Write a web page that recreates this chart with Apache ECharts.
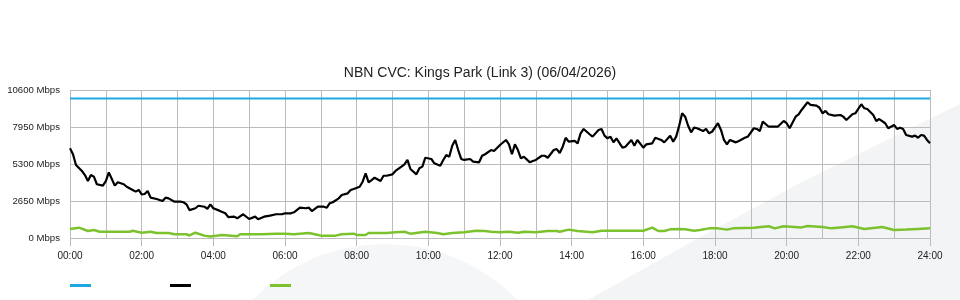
<!DOCTYPE html>
<html>
<head>
<meta charset="utf-8">
<script src="https://cdn.jsdelivr.net/npm/echarts@6/dist/echarts.min.js"></script>
<style>html,body{margin:0;padding:0;background:#fff;}#c{width:960px;height:300px;}</style>
</head>
<body>
<div id="c"></div>
<script>
// ---- data (minutes since 00:00, Mbps) ----
const titleText = 'NBN CVC: Kings Park (Link 3) (06/04/2026)';
const xTickLabels = ['00:00','02:00','04:00','06:00','08:00','10:00','12:00','14:00','16:00','18:00','20:00','22:00','24:00'];
const yTicks = [0, 2650, 5300, 7950, 10600];

const capacityTimes = [0, 1440];
const capacityValues = [10000, 10000];

const trafficTimes = [0,5,10,20,25,30,35,40,45,55,60,65,70,75,80,90,95,105,110,115,120,125,130,135,145,155,160,165,175,185,190,195,200,210,215,225,230,235,240,250,260,265,275,280,290,300,310,315,325,335,345,355,360,370,375,385,395,400,405,415,425,430,435,440,450,455,465,470,475,485,490,495,500,505,510,520,525,530,540,545,555,560,565,570,580,585,590,595,605,610,620,625,630,635,640,645,650,655,660,670,675,685,690,695,705,710,720,730,735,740,745,750,755,760,770,775,780,790,795,800,810,815,820,825,830,835,845,850,855,860,870,875,885,890,895,900,905,910,915,925,930,940,945,950,960,965,975,980,990,995,1005,1010,1015,1020,1025,1030,1035,1040,1045,1050,1060,1065,1070,1075,1085,1090,1095,1100,1105,1115,1120,1130,1135,1145,1150,1155,1160,1170,1175,1185,1195,1200,1205,1215,1220,1225,1235,1240,1250,1255,1260,1265,1270,1280,1290,1295,1300,1310,1315,1325,1330,1335,1345,1350,1355,1365,1370,1380,1385,1390,1395,1400,1410,1415,1420,1425,1430,1435,1440];
const trafficValues = [6420,6000,5230,4800,4510,4080,4510,4390,3850,3750,4080,4700,4230,3750,3990,3850,3670,3440,3320,3440,3130,3150,3370,2890,2790,2650,2890,2840,2600,2600,2560,2410,2000,2130,2310,2240,2080,2410,2130,1960,1770,1500,1530,1410,1700,1360,1530,1340,1530,1600,1700,1700,1770,1770,1840,2170,2130,2170,1930,2240,2240,2170,2490,2560,2840,3080,3200,3440,3510,3670,4030,4630,3990,4150,4320,4080,4460,4460,4560,4800,5110,5280,5590,4940,4560,4990,5110,5750,5660,5350,5180,5590,5940,5820,6610,7020,6300,5660,5590,5660,5470,5420,5890,6000,6300,6230,6660,7020,6710,6000,6710,6300,5710,5820,5420,5520,5590,5890,5890,5750,6300,6370,6090,6540,7180,6900,6950,6780,7500,7810,7430,7260,7740,7810,7330,7140,7260,6850,7140,6470,6540,7020,6610,7020,6470,6710,6780,7180,7020,6850,7330,6900,7260,8040,8930,8690,8040,7570,7900,7860,7660,7810,7500,7610,8220,7740,7020,6710,7020,6850,6950,7180,7260,7860,7810,7660,8330,7970,7970,7970,8380,8220,7860,8690,8860,9170,9720,9530,9480,9330,8930,9100,8860,8760,8810,8690,8450,8860,8930,9580,9290,9240,8810,8380,8520,8220,7860,8090,7810,7900,7810,7380,7260,7330,7180,7380,7330,7020,6780];

const uploadTimes = [0,15,30,40,50,100,105,120,135,145,165,175,195,200,210,225,235,255,280,285,320,345,360,375,400,410,420,445,455,475,480,495,500,530,545,560,570,595,615,625,640,660,680,695,705,720,735,750,760,780,800,815,820,835,850,875,890,960,975,985,995,1005,1020,1030,1045,1055,1070,1085,1100,1110,1145,1170,1180,1195,1225,1235,1260,1275,1290,1310,1330,1360,1380,1400,1420,1440];
const uploadValues = [650,740,500,570,450,450,520,380,450,360,360,270,270,180,380,170,100,220,120,270,270,310,310,270,360,270,170,170,270,310,220,220,360,360,410,450,310,450,360,270,360,410,520,500,450,410,450,380,450,410,500,500,450,600,500,410,520,520,740,500,500,620,650,620,520,570,690,690,600,690,740,840,690,840,760,860,790,690,760,840,650,790,570,600,650,690];

const zip = (t, v) => t.map((x, i) => [x, v[i]]);

const chart = echarts.init(document.getElementById('c'), null, {renderer: 'canvas'});
const FONT = "'Liberation Sans', Arial, sans-serif";
const GRID_C = '#bcbcbc';

chart.setOption({
  animation: false,
  backgroundColor: '#ffffff',
  graphic: [
    { type: 'polygon', z: -100, silent: true,
      shape: { points: [[588,300],[686,245],[800,183],[960,104],[960,300]] },
      style: { fill: '#f3f4f6' } },
    { type: 'circle', z: -100, silent: true,
      shape: { cx: 385, cy: 428, r: 184 },
      style: { fill: '#f5f6f7' } }
  ],
  title: {
    text: titleText, left: 'center', top: 61,
    textStyle: { fontFamily: FONT, fontSize: 14, fontWeight: 'normal', color: '#222' }
  },
  legend: {
    left: 65, top: 279, itemWidth: 21, itemHeight: 3, itemGap: 79, icon: 'rect',
    data: ['Capacity', 'Download', 'Upload'],
    formatter: () => '',
    textStyle: { fontSize: 10 },
    selectedMode: false
  },
  grid: { left: 70, right: 30, top: 90, bottom: 62, containLabel: false },
  xAxis: [
    { type: 'value', min: 0, max: 1440, interval: 120, position: 'bottom',
      axisLine: { show: false },
      axisTick: { show: true, length: 8, lineStyle: { color: GRID_C } },
      splitLine: { show: false },
      axisLabel: { margin: 13, fontFamily: FONT, fontSize: 10, color: '#222',
        formatter: v => xTickLabels[Math.round(v / 120)] } },
    { type: 'value', min: 0, max: 1440, interval: 60, position: 'top',
      axisLine: { show: false }, axisTick: { show: false }, axisLabel: { show: false },
      splitLine: { show: true, lineStyle: { color: GRID_C, width: 1 } } }
  ],
  yAxis: {
    type: 'value', min: yTicks[0], max: yTicks[yTicks.length - 1], interval: 2650,
    axisLine: { show: false }, axisTick: { show: false },
    splitLine: { show: true, lineStyle: { color: GRID_C, width: 1 } },
    axisLabel: { margin: 10, fontFamily: FONT, fontSize: 9.6, color: '#222',
      formatter: v => v + ' Mbps' }
  },
  series: [
    { name: 'Capacity', type: 'line', xAxisIndex: 0, data: zip(capacityTimes, capacityValues),
      showSymbol: false, lineStyle: { color: '#1ea7e1', width: 2 }, itemStyle: { color: '#1ea7e1' }, z: 3 },
    { name: 'Download', type: 'line', xAxisIndex: 0, data: zip(trafficTimes, trafficValues),
      showSymbol: false, lineStyle: { color: '#000000', width: 2.2 }, itemStyle: { color: '#000000' }, z: 4 },
    { name: 'Upload', type: 'line', xAxisIndex: 0, data: zip(uploadTimes, uploadValues),
      showSymbol: false, lineStyle: { color: '#7cc22e', width: 2.5 }, itemStyle: { color: '#7cc22e' }, z: 3 }
  ]
});
</script>
</body>
</html>
